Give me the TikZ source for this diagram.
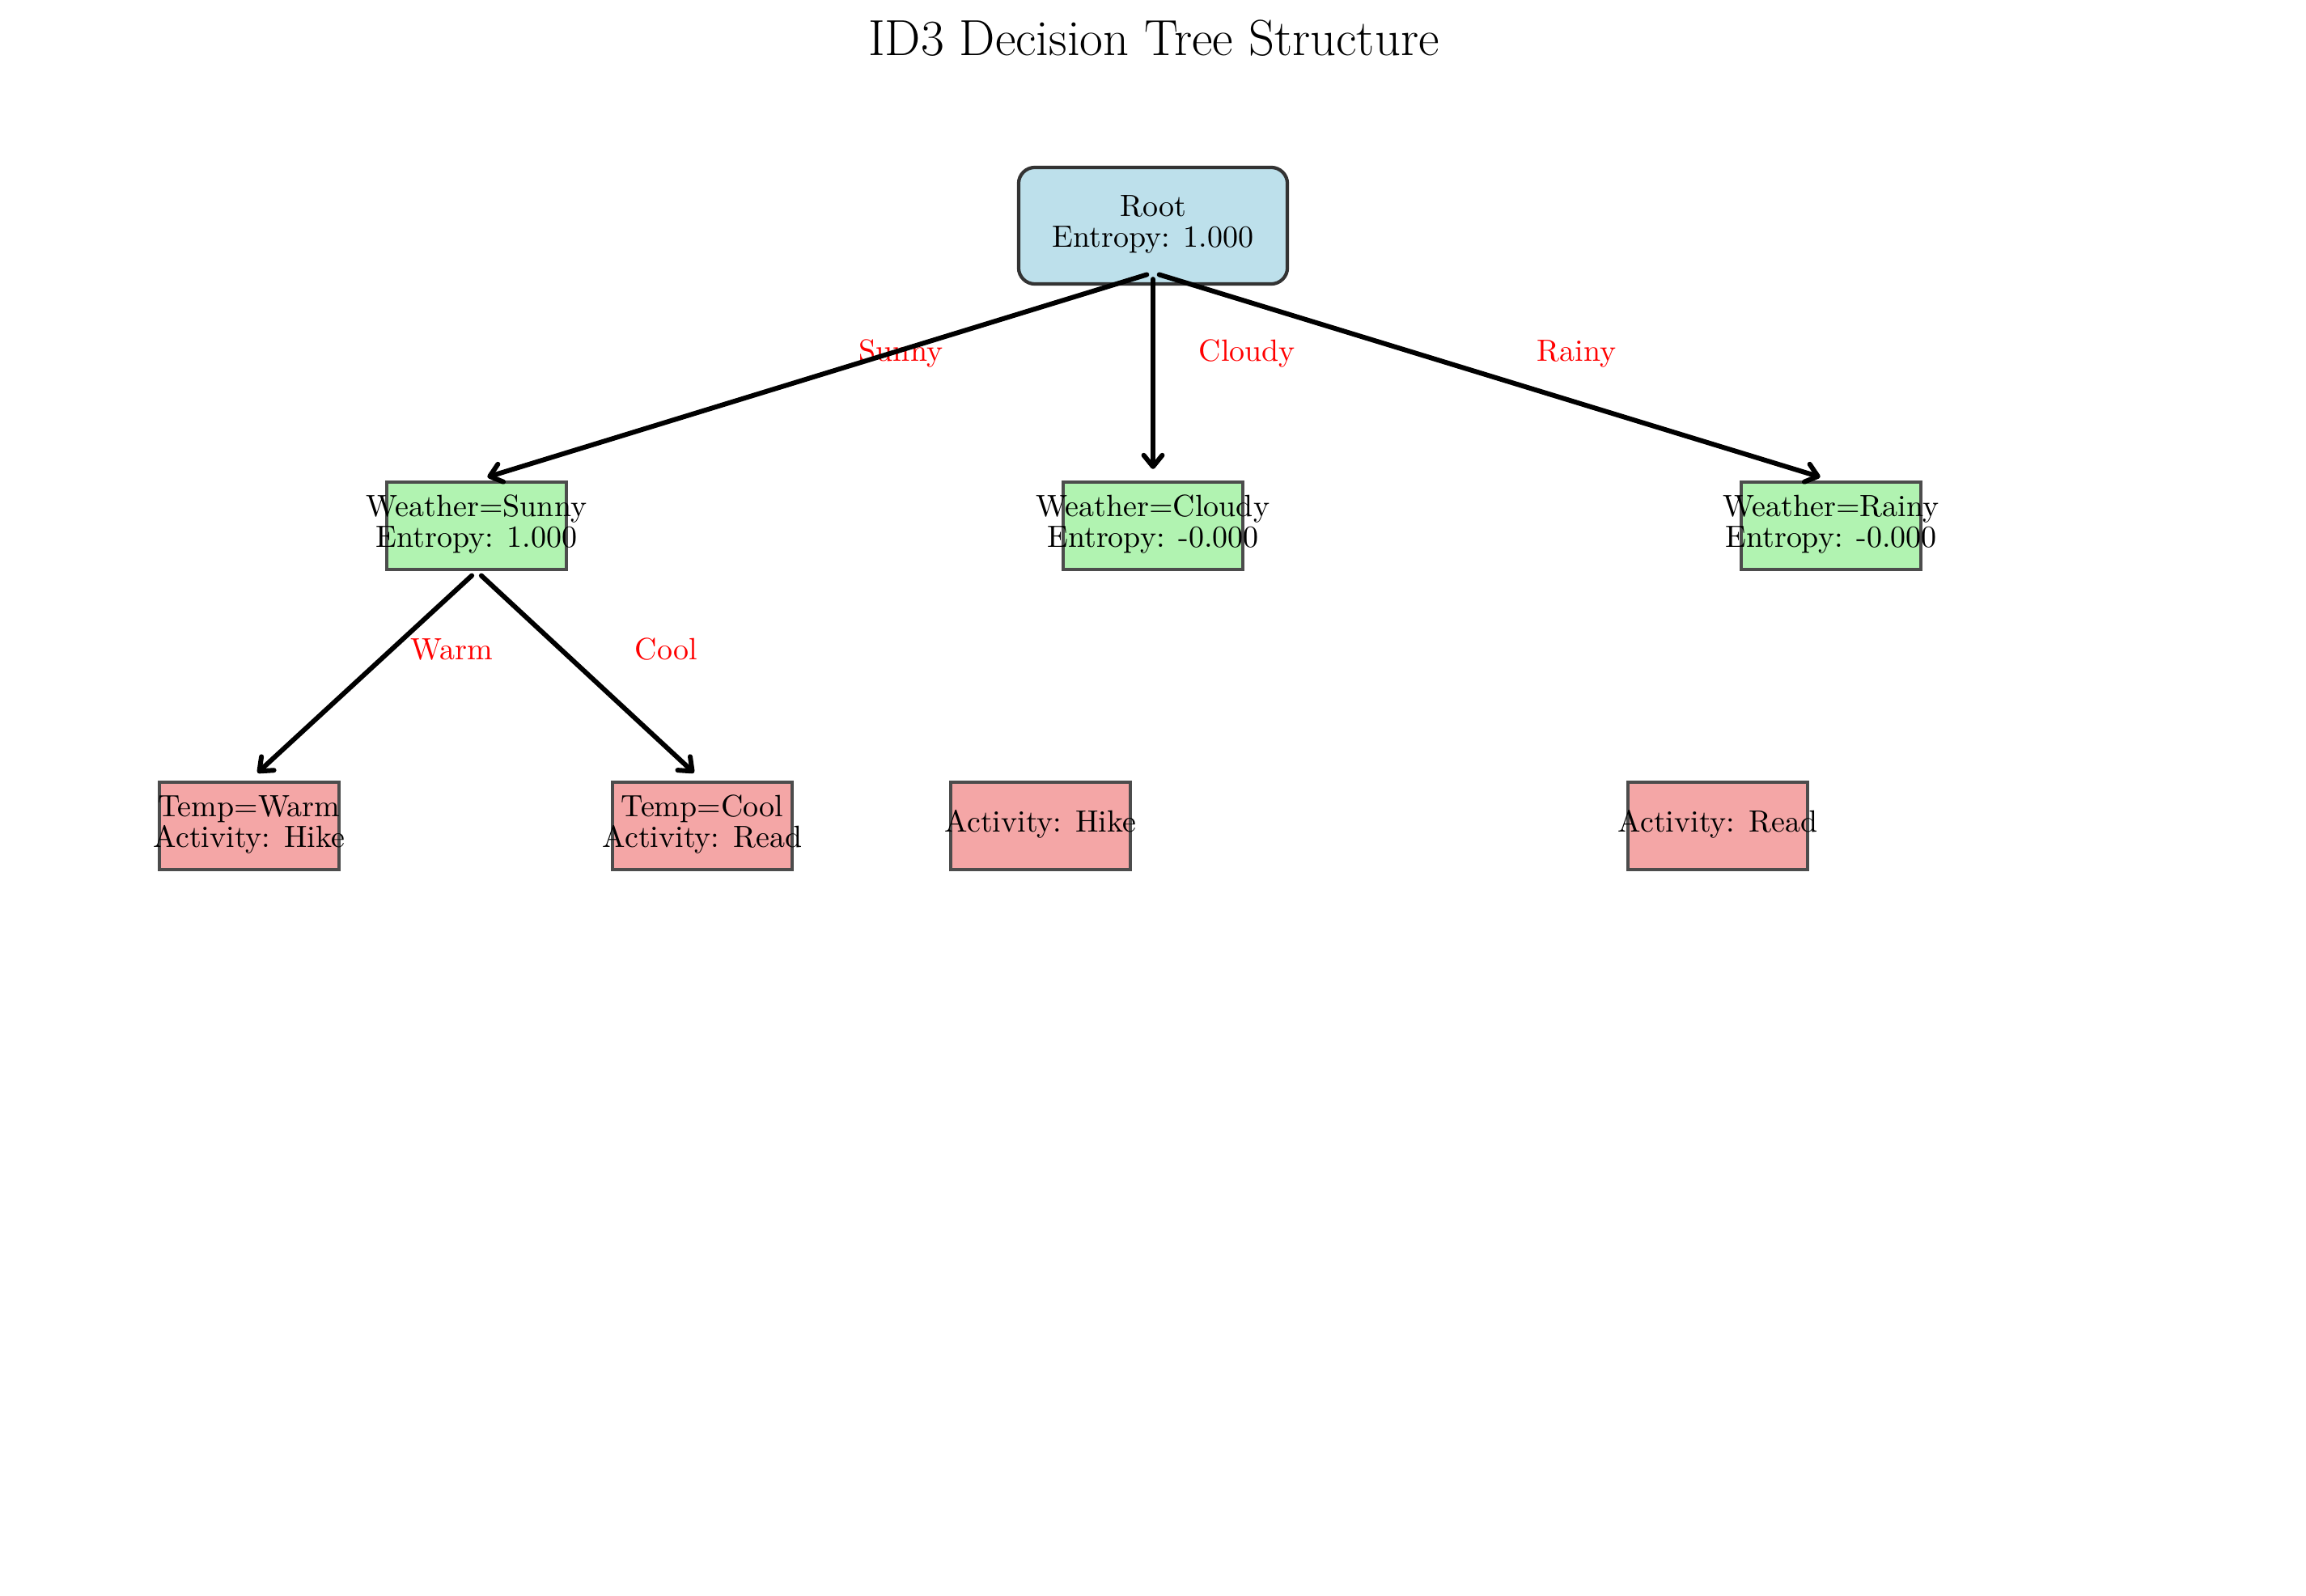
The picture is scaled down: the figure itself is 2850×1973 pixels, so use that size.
\documentclass[tikz,border=0pt]{standalone}
\usepackage{tikz}
\usetikzlibrary{arrows.meta}
\definecolor{rootfill}{RGB}{189,224,235}
\definecolor{splitfill}{RGB}{177,243,177}
\definecolor{leaffill}{RGB}{244,166,166}
\newcommand{\boxtext}[1]{\makebox[0pt]{\begin{tabular}{@{}c@{}}#1\end{tabular}}}
\tikzset{
    box font/.style={font=\fontsize{10.8}{10.8}\selectfont}, % 节点文字
    root box/.style={box font, draw=black!80, fill=rootfill, line width=1.2pt, rounded corners=0.2cm,
        minimum width=3.32cm, minimum height=1.44cm, inner sep=0pt}, % 根节点
    split box/.style={box font, draw=black!70, fill=splitfill, line width=1.2pt,
        minimum width=2.22cm, minimum height=1.08cm, inner sep=0pt}, % 内部节点
    leaf box/.style={split box, fill=leaffill}, % 叶节点
    branch/.style={line width=1.7pt, line cap=round, -{Straight Barb[length=4pt,width=6.5pt,round]},
        shorten <=0.08cm, shorten >=0.14cm}, % 分支箭头
    branch label/.style={box font, text=red, anchor=base west, inner sep=0pt} % 分支标签
}

\begin{document}
\begin{tikzpicture}[x=0.01cm, y=-0.01cm]
          \useasboundingbox (0,0) rectangle (2850,1973);

          % --- 1. 标题 ---
          \node[font=\fontsize{17.8}{20}\selectfont, anchor=base] (title) at (1426,69) {ID3 Decision Tree Structure};

          % --- 2. 根节点与第一层节点 ---
          \node[root box] (root) at (1425,279) {\boxtext{Root\\Entropy: 1.000}};
          \foreach \nodename / \x / \val / \ent in {
              sunny/589/Sunny/1.000,
              cloudy/1425/Cloudy/-0.000,
              rainy/2263/Rainy/-0.000
          } {
              \node[split box] (\nodename) at (\x,650) {\boxtext{Weather=\val\\Entropy: \ent}};
          }

          % --- 3. 叶节点 ---
          \node[leaf box] (warm) at (308,1021) {\boxtext{Temp=Warm\\Activity: Hike}};
          \node[leaf box] (cool) at (868,1021) {\boxtext{Temp=Cool\\Activity: Read}};
          \node[leaf box] (hike) at (1286,1021) {\boxtext{Activity: Hike}};
          \node[leaf box] (read) at (2123,1021) {\boxtext{Activity: Read}};

          % --- 4. 分支标签 ---
          \node[branch label] (lsunny) at (1061,447) {Sunny};
          \node[branch label] (lcloudy) at (1481,447) {Cloudy};
          \node[branch label] (lrainy) at (1899,447) {Rainy};
          \node[branch label] (lwarm) at (507,816) {Warm};
          \node[branch label] (lcool) at (784,816) {Cool};

          % --- 5. 分支箭头 ---
          \foreach \child in {sunny, cloudy, rainy} {
              \draw[branch] ([yshift=0.16cm]root.south) -- (\child.north);
          }
          \foreach \child in {warm, cool} {
              \draw[branch] (sunny.south) -- (\child.north);
          }

      \end{tikzpicture}
\end{document}
